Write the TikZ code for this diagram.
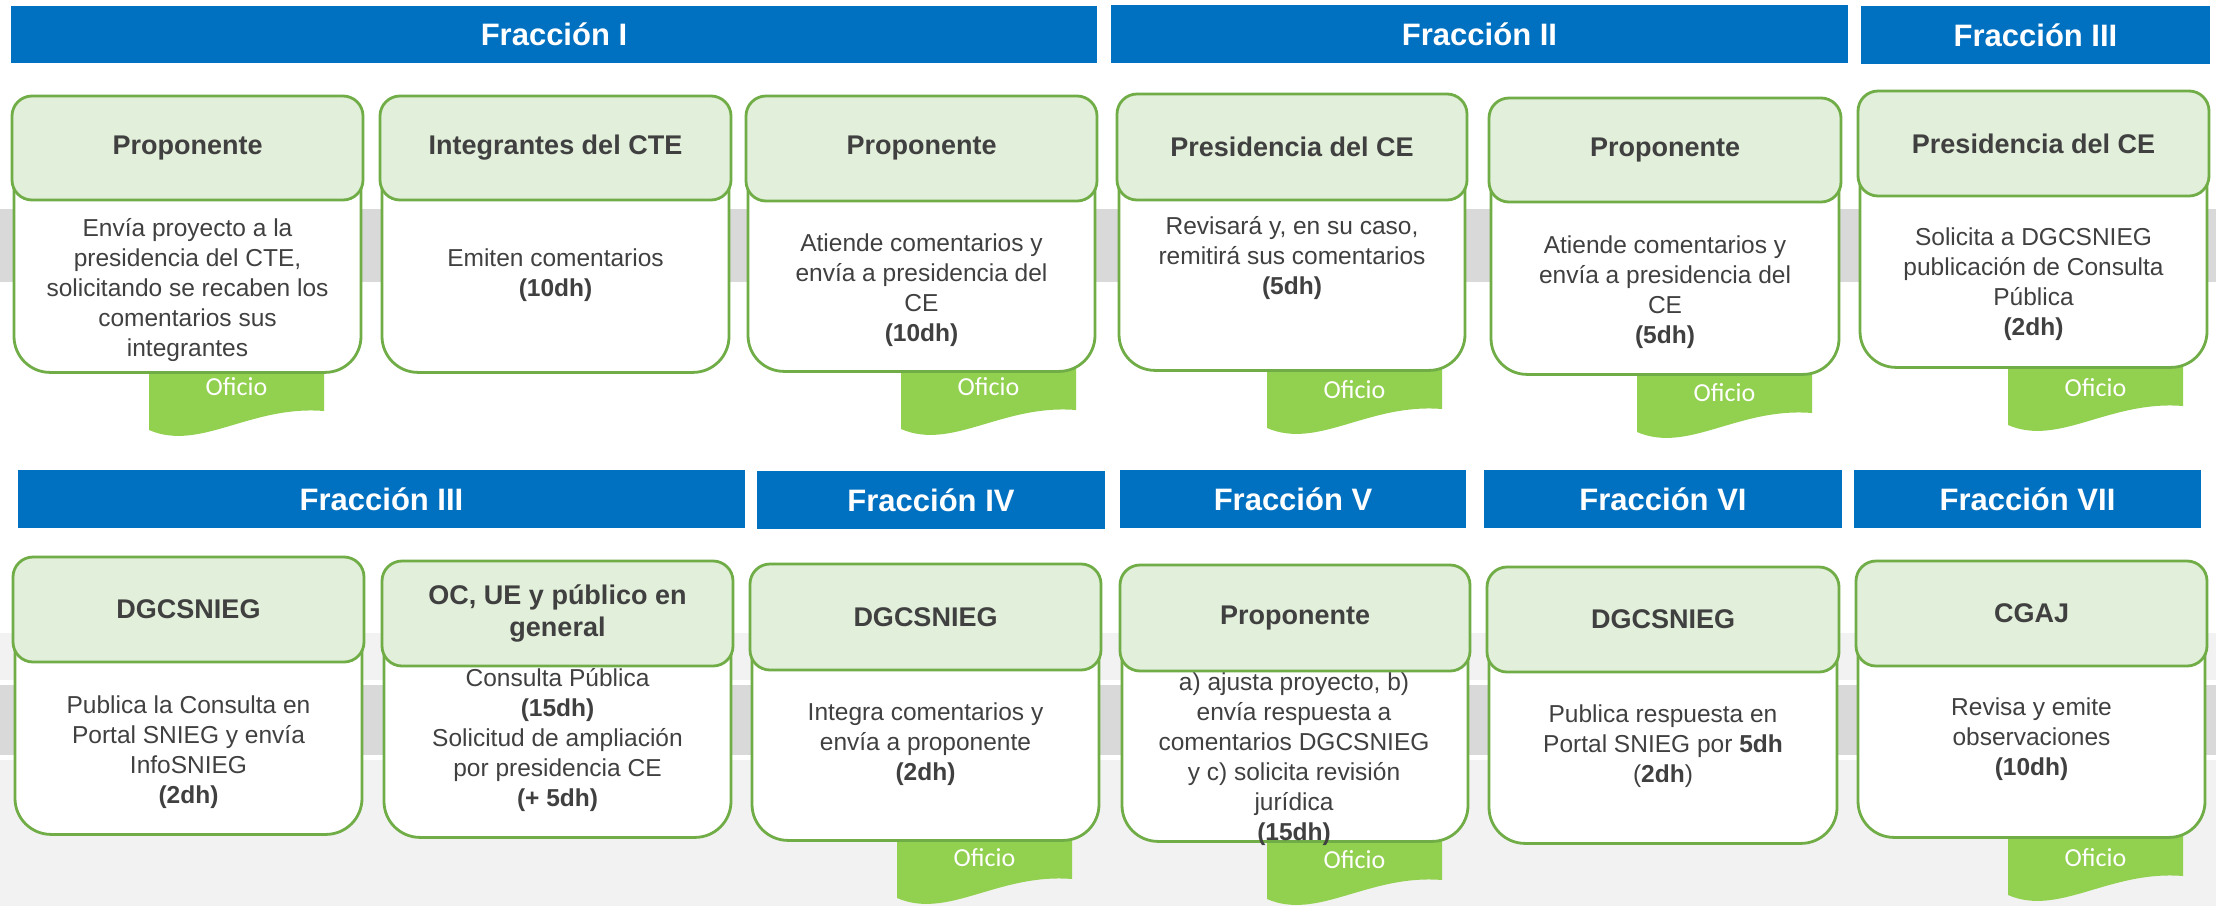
\documentclass[tikz,border=0pt]{standalone}
\usepackage{fontspec}
\setmainfont{Liberation Sans}
\newfontfamily\oficiofamily{Carlito}
\definecolor{barblue}{HTML}{0070C0}
\definecolor{cardgreen}{HTML}{70AD47}
\definecolor{hdrfill}{HTML}{E2EFDA}
\definecolor{tabfill}{HTML}{92D050}
\definecolor{bandgray}{HTML}{D9D9D9}
\definecolor{lightbg}{HTML}{F2F2F2}
\definecolor{txtgray}{HTML}{404040}
\tikzset{
 titlebar/.style={fill=barblue, text=white, font=\fontsize{15.5pt}{18pt}\selectfont\bfseries, inner sep=0pt},
 hdrbox/.style={draw=cardgreen, fill=hdrfill, line width=1.4pt, rounded corners=10pt, inner sep=0pt, align=center, text=txtgray, font=\fontsize{13.5pt}{16pt}\selectfont\bfseries},
 bodybox/.style={draw=cardgreen, fill=white, line width=1.4pt, rounded corners=18pt, inner sep=0pt},
 bodytext/.style={text=txtgray, align=center, inner sep=0pt, font=\fontsize{12.25pt}{15pt}\selectfont},
 tabtext/.style={text=white, inner sep=0pt, font=\oficiofamily\fontsize{13pt}{15pt}\selectfont},
}
% #1 name, #2 left, #3 right, #4 top, #5 bottom, #6 text
\newcommand\fracbar[6]{\node[titlebar, minimum width={(#3-#2)*0.5pt}, minimum height={(#5-#4)*0.5pt}] (#1) at ({(#2+#3)/2},{(#4+#5)/2}) {#6};}
% #1 name, #2 left, #3 right, #4 header top, #5 header bottom, #6 body bottom, #7 header text
\newcommand\mkcard[7]{%
 \node[bodybox, anchor=north, minimum width={(#3-#2-4)*0.5pt}, minimum height={(#6-#4)*0.5pt}] (#1body) at ({(#2+#3)/2},#4) {};
 \node[hdrbox, minimum width={(#3-#2)*0.5pt}, minimum height={(#5-#4)*0.5pt}] (#1head) at ({(#2+#3)/2},{(#4+#5)/2}) {#7};
}
% #1 name, #2 left x, #3 body bottom, #4 text y
\newcommand\oftab[4]{%
 \fill[tabfill] (#2,{#3-15}) -- ({#2+175},{#3-15}) -- ({#2+175},{#3+40}) .. controls ({#2+101},{#3+34}) and ({#2+51},{#3+81}) .. (#2,{#3+59}) -- cycle;
 \node[tabtext] (#1) at ({#2+87.5},#4) {Oficio};
}
\begin{document}
\begin{tikzpicture}[x=0.5pt,y=-0.5pt]
\clip (0,0) rectangle (2216,906);
\fill[white] (0,0) rectangle (2216,906);
% backgrounds
\fill[bandgray] (0,209) rectangle (2216,282);
\fill[lightbg] (0,633) rectangle (2216,906);
\fill[white] (0,680) rectangle (2216,760);
\fill[bandgray] (0,685) rectangle (2216,755);
% title bars
\fracbar{f1}{11}{1097}{6}{63}{Fracción I}
\fracbar{f2}{1111}{1848}{5}{63}{Fracción II}
\fracbar{f3}{1861}{2210}{6}{64}{Fracción III}
\fracbar{g3}{18}{745}{470}{528}{Fracción III}
\fracbar{g4}{757}{1105}{471}{529}{Fracción IV}
\fracbar{g5}{1120}{1466}{470}{528}{Fracción V}
\fracbar{g6}{1484}{1842}{470}{528}{Fracción VI}
\fracbar{g7}{1854}{2201}{470}{528}{Fracción VII}
% Oficio tabs
\oftab{t1}{149}{371}{387}
\oftab{t3}{901}{370}{387}
\oftab{t4}{1267}{369}{390}
\oftab{t5}{1637}{373}{393}
\oftab{t6}{2008}{366}{388}
\oftab{u3}{897}{839}{858}
\oftab{u4}{1267}{840}{860}
\oftab{u6}{2008}{836}{858}
% cards row 1
\mkcard{a1}{12}{363}{96}{200}{371}{Proponente}
\mkcard{a2}{380}{731}{96}{200}{371}{Integrantes del CTE}
\mkcard{a3}{746}{1097}{96}{201}{370}{Proponente}
\mkcard{a4}{1117}{1467}{94}{200}{369}{Presidencia del CE}
\mkcard{a5}{1489}{1841}{98}{202}{373}{Proponente}
\mkcard{a6}{1858}{2209}{91}{196}{366}{Presidencia del CE}
% cards row 2
\mkcard{c1}{13}{364}{557}{662}{833}{DGCSNIEG}
\mkcard{c2}{382}{733}{561}{666}{836}{OC, UE y público en\\general}
\mkcard{c3}{750}{1101}{564}{670}{839}{DGCSNIEG}
\mkcard{c4}{1120}{1470}{565}{671}{840}{Proponente}
\mkcard{c5}{1487}{1839}{567}{672}{842}{DGCSNIEG}
\mkcard{c6}{1856}{2207}{561}{666}{836}{CGAJ}
% body texts row 1
\node[bodytext] (a1t) at (187.5,290) {Envía proyecto a la\\presidencia del CTE,\\solicitando se recaben los\\comentarios sus\\integrantes};
\node[bodytext] (a2t) at (555.5,275) {Emiten comentarios\\\textbf{(10dh)}};
\node[bodytext] (a3t) at (921.5,290) {Atiende comentarios y\\envía a presidencia del\\CE\\\textbf{(10dh)}};
\node[bodytext] (a4t) at (1292,258) {Revisará y, en su caso,\\remitirá sus comentarios\\\textbf{(5dh)}};
\node[bodytext] (a5t) at (1665,292) {Atiende comentarios y\\envía a presidencia del\\CE\\\textbf{(5dh)}};
\node[bodytext] (a6t) at (2033.5,284) {Solicita a DGCSNIEG\\publicación de Consulta\\Pública\\\textbf{(2dh)}};
% body texts row 2
\node[bodytext] (c1t) at (188.5,752) {Publica la Consulta en\\Portal SNIEG y envía\\InfoSNIEG\\\textbf{(2dh)}};
\node[bodytext] (c2t) at (557.5,740) {Consulta Pública\\\textbf{(15dh)}\\Solicitud de ampliación\\por presidencia CE\\\textbf{(+ 5dh)}};
\node[bodytext] (c3t) at (925.5,744) {Integra comentarios y\\envía a proponente\\\textbf{(2dh)}};
\node[bodytext] (c4t) at (1294,759.5) {a) ajusta proyecto, b)\\envía respuesta a\\comentarios DGCSNIEG\\y c) solicita revisión\\jurídica\\\textbf{(15dh)}};
\node[bodytext] (c5t) at (1663,746) {Publica respuesta en\\Portal SNIEG por \textbf{5dh}\\(\textbf{2dh})};
\node[bodytext] (c6t) at (2031.5,739) {Revisa y emite\\observaciones\\\textbf{(10dh)}};
\end{tikzpicture}
\end{document}
